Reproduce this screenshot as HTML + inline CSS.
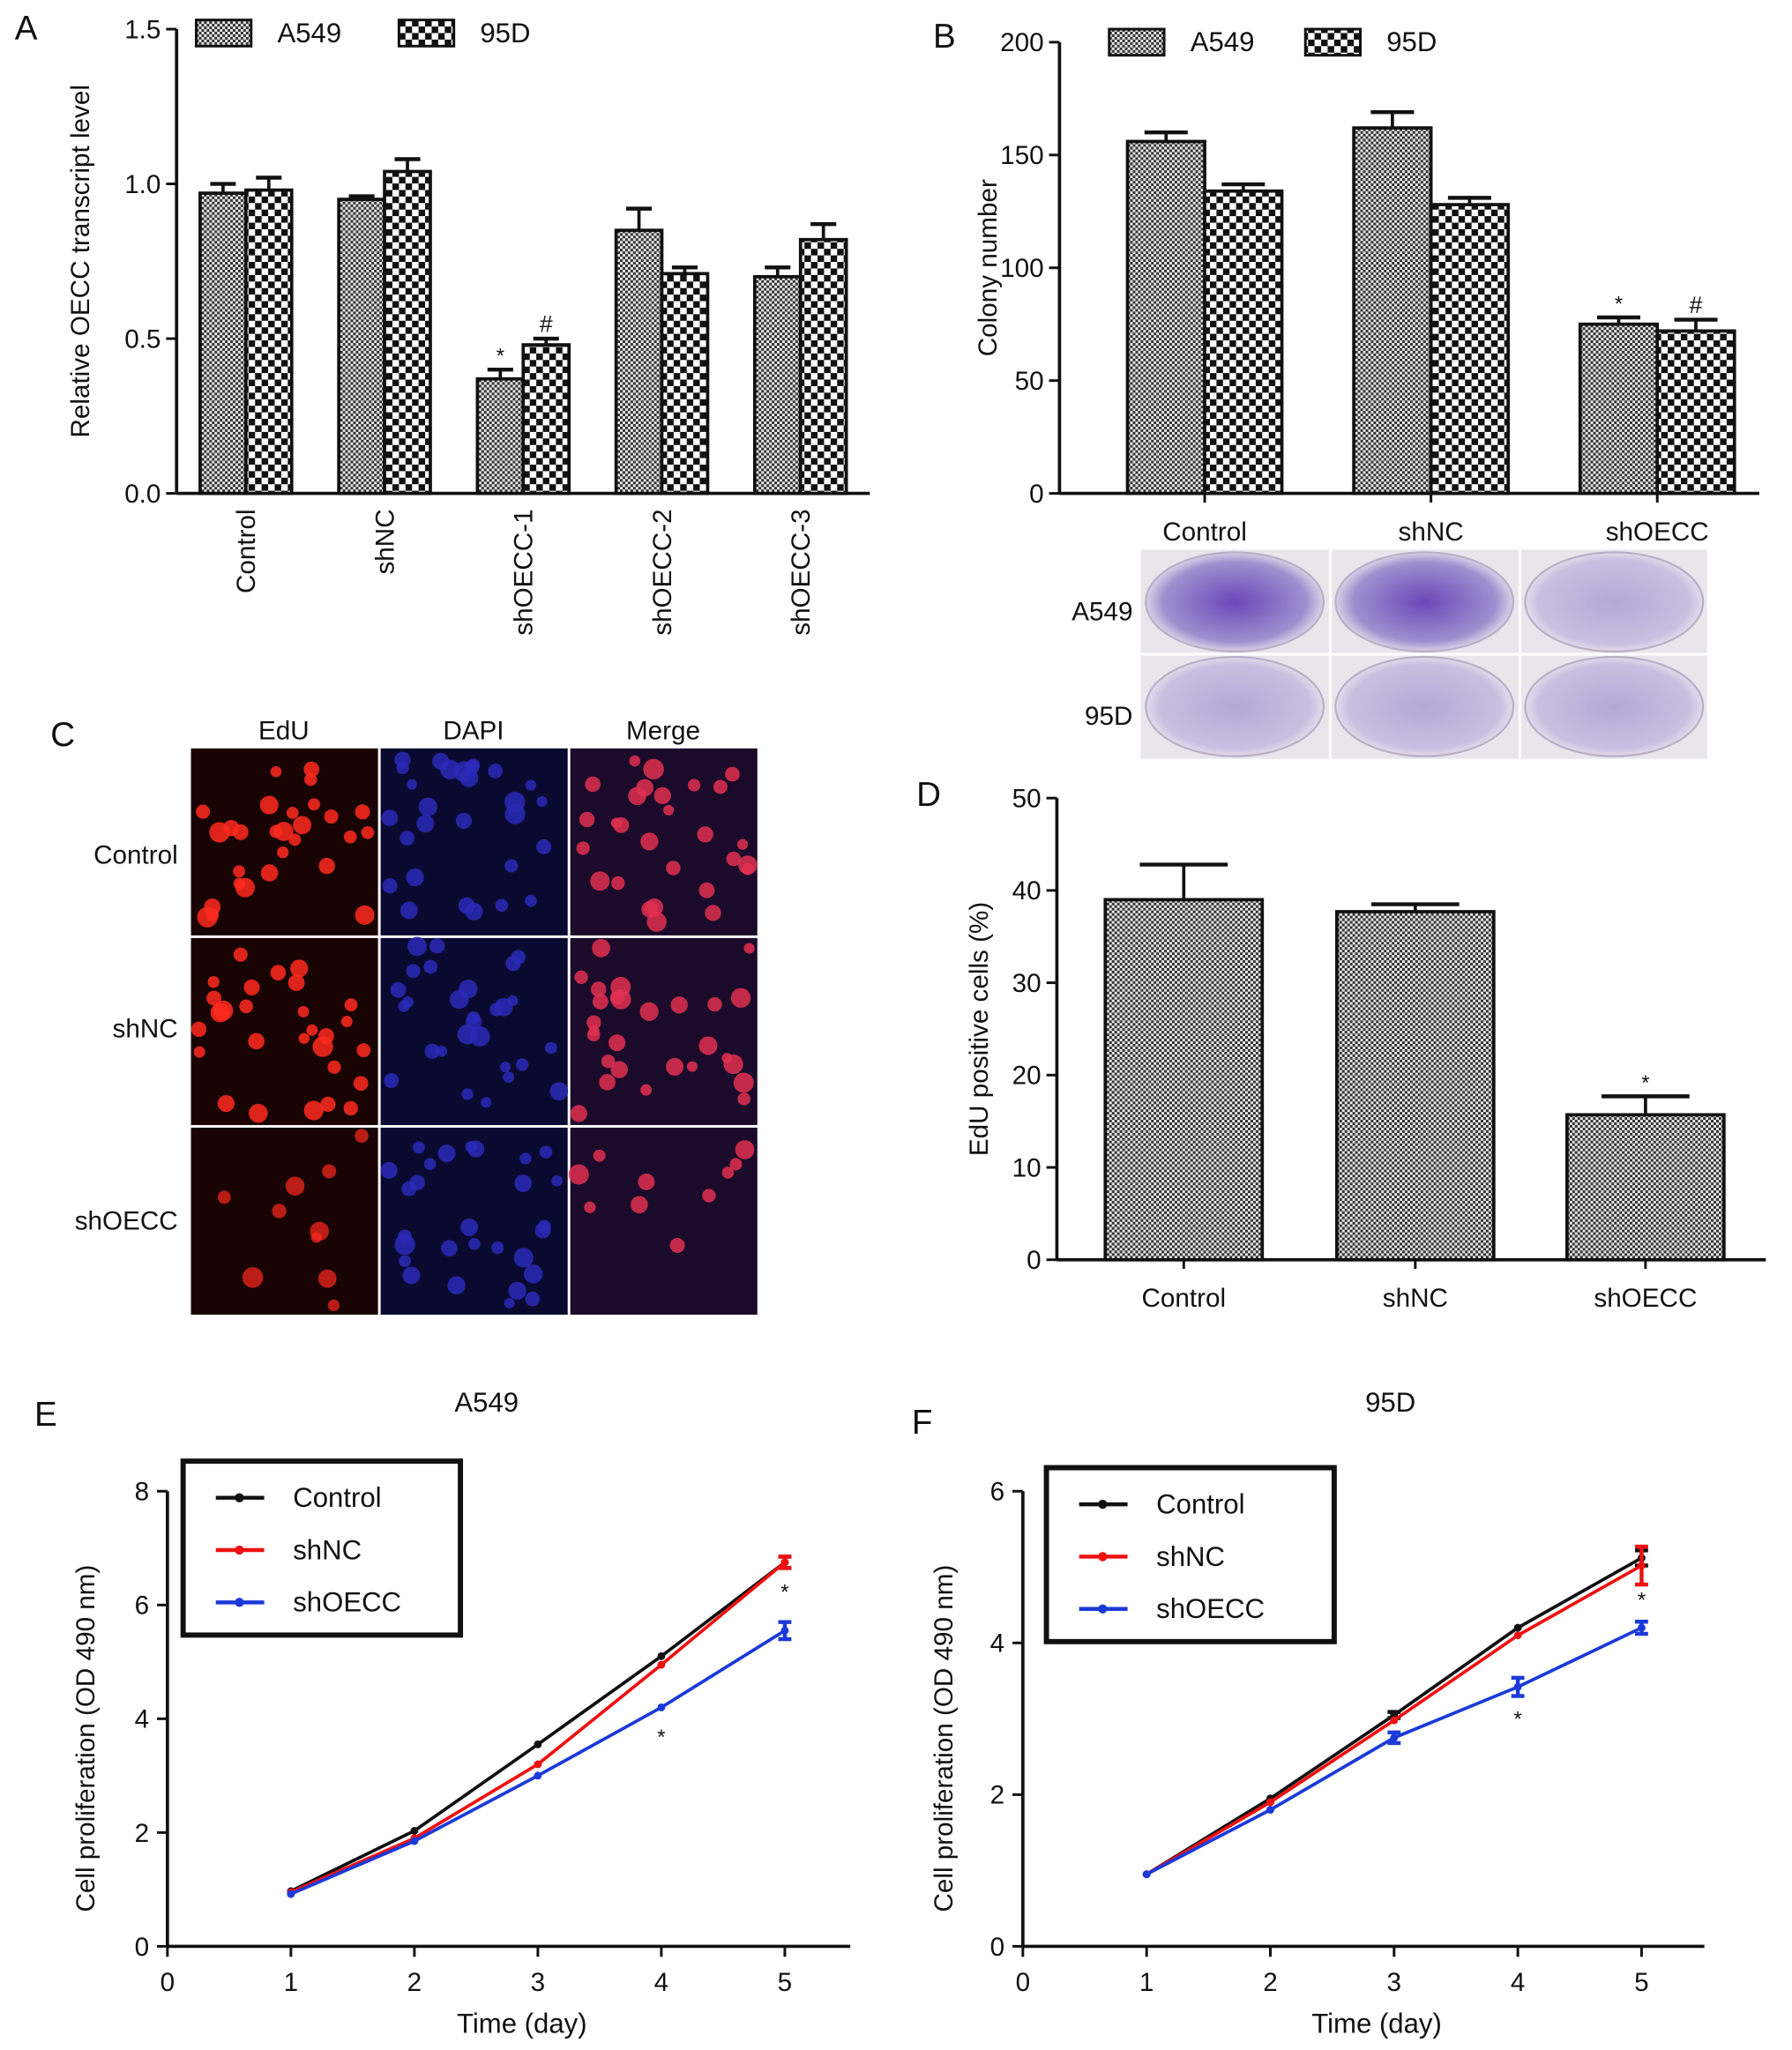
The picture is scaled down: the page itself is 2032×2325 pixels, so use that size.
<!DOCTYPE html>
<html><head><meta charset="utf-8"><style>
html,body{margin:0;padding:0;background:#fff}
svg{display:block;font-family:"Liberation Sans",Arial,sans-serif}
</style></head><body>
<svg id="fig" width="2032" height="2325" viewBox="0 0 1370 1567" xmlns="http://www.w3.org/2000/svg">
<defs>
<pattern id="pA" width="4" height="4" patternUnits="userSpaceOnUse"><rect width="4" height="4" fill="#e6e6e6"/><rect width="2" height="2" fill="#333"/><rect x="2" y="2" width="2" height="2" fill="#333"/></pattern>
<pattern id="pB" width="10" height="10" patternUnits="userSpaceOnUse"><rect width="10" height="10" fill="#fff"/><rect width="5" height="5" fill="#111"/><rect x="5" y="5" width="5" height="5" fill="#111"/></pattern>
<radialGradient id="dishA" cx="50%" cy="50%" r="50%"><stop offset="0" stop-color="#6a48b8"/><stop offset="0.8" stop-color="#9f8fcf"/><stop offset="1" stop-color="#d8d2e6"/></radialGradient>
<radialGradient id="dishB" cx="50%" cy="50%" r="50%"><stop offset="0" stop-color="#b4a8d8"/><stop offset="0.85" stop-color="#c9c0e0"/><stop offset="1" stop-color="#e2dcec"/></radialGradient>
</defs>
<g id="root"></g>
</svg>
<script>
// ---- Panel A data ----
const aCats = ['Control','shNC','shOECC-1','shOECC-2','shOECC-3'];
const aA549 = [0.97,0.95,0.37,0.85,0.70];
const a95D = [0.98,1.04,0.48,0.71,0.82];
const aA549Err = [0.03,0.01,0.03,0.07,0.03];
const a95DErr = [0.04,0.04,0.02,0.02,0.05];
const aTicks = [0,0.5,1.0,1.5];
// ---- Panel B data ----
const bCats = ['Control','shNC','shOECC'];
const bA549 = [156,162,75];
const b95D = [134,128,72];
const bA549Err = [4,7,3];
const b95DErr = [3,3,5];
const bTicks = [0,50,100,150,200];
// ---- Panel D data ----
const dCats = ['Control','shNC','shOECC'];
const dVals = [39,37.7,15.7];
const dErr = [3.8,0.8,2.0];
const dTicks = [0,10,20,30,40,50];
// ---- Panel E data ----
const days = [1,2,3,4,5];
const eControl = [0.97,2.03,3.55,5.1,6.75];
const eShNC = [0.95,1.9,3.2,4.95,6.75];
const eShOECC = [0.92,1.85,3.0,4.2,5.55];
const eErr = [[0,0,0,0,0.1],[0,0,0,0,0.1],[0,0,0,0,0.15]];
const eYTicks = [0,2,4,6,8];
// ---- Panel F data ----
const fControl = [0.95,1.95,3.05,4.2,5.12];
const fShNC = [0.95,1.9,2.98,4.1,5.02];
const fShOECC = [0.95,1.8,2.75,3.42,4.2];
const fErr = [[0,0,0.04,0,0.1],[0,0,0,0,0.25],[0,0,0.07,0.12,0.08]];
const fYTicks = [0,2,4,6];
const xTicks = [0,1,2,3,4,5];

const NS='http://www.w3.org/2000/svg';
const root=document.getElementById('root');
function el(tag,attrs,parent){const e=document.createElementNS(NS,tag);for(const k in attrs)e.setAttribute(k,attrs[k]);(parent||root).appendChild(e);return e;}
function txt(x,y,s,size,anchor,parent,rot){const t=el('text',{x:x,y:y,'font-size':size,'text-anchor':anchor||'middle',fill:'#111'},parent);if(rot)t.setAttribute('transform','rotate('+rot+' '+x+' '+y+')');t.textContent=s;return t;}
function line(x1,y1,x2,y2,w,c,parent){return el('line',{x1:x1,y1:y1,x2:x2,y2:y2,stroke:c||'#111','stroke-width':w||2},parent);}

[['A',20,30],['B',722,36],['C',48,570],['D',710,616],['E',35,1090],['F',705,1096]].forEach(p=>{
  const t=txt(p[1],p[2],p[0],26,'middle');
  
  
});

function barPanel(cfg){
  const g=el('g',{});
  
  
  const y=v=>cfg.y0-(v-cfg.min)/(cfg.max-cfg.min)*(cfg.y0-cfg.ytop);
  line(cfg.x0,cfg.ytop,cfg.x0,cfg.y0,2.5,'#111',g);
  line(cfg.x0,cfg.y0,cfg.xend,cfg.y0,2.5,'#111',g);
  cfg.ticks.forEach(t=>{
    line(cfg.x0-8,y(t),cfg.x0,y(t),2,'#111',g);
    const l=txt(cfg.x0-12,y(t)+7,cfg.fmt?cfg.fmt(t):String(t),20,'end',g);
    
    
  });
  const yt=txt(cfg.ytx,(cfg.y0+cfg.ytop)/2,cfg.ytitle,20,'middle',g,-90);
  
  
  const n=cfg.cats.length, gw=(cfg.xend-cfg.x0)/n;
  cfg.cats.forEach((c,i)=>{
    const cx=cfg.centers?cfg.centers[i]:cfg.x0+gw*(i+0.5);
    const bw=cfg.bw;
    cfg.series.forEach((s,j)=>{
      const bx = cfg.series.length===1? cx-bw/2 : cx-bw+j*bw;
      const v=s.vals[i], e=s.err[i];
      line(bx+bw/2,y(v),bx+bw/2,y(v+e),2.5,'#111',g);
      line(bx+bw/2-bw*0.28,y(v+e),bx+bw/2+bw*0.28,y(v+e),3,'#111',g);
      const r=el('rect',{x:bx,y:y(v),width:bw,height:cfg.y0-y(v),fill:'url(#'+s.pat+')',stroke:'#111','stroke-width':2.5},g);
      
      
      if(s.marks&&s.marks[i]){const m=txt(bx+bw/2,y(v+e)-5,s.marks[i],s.marks[i]==='*'?16:18,'middle',g);}
    });
    if(cfg.rotLabels){
      const l=txt(cx+7,cfg.y0+12,c,20,'end',g,-90);
      
      
    } else {
      line(cx,cfg.y0,cx,cfg.y0+7,2,'#111',g);
      const l=txt(cx,cfg.y0+36,c,20,'middle',g);
      
      
    }
  });
  if(cfg.legend){
    cfg.legend.forEach(L=>{
      const r=el('rect',{x:L.x,y:L.y,width:42,height:20,fill:'url(#'+L.pat+')',stroke:'#111','stroke-width':2},g);
      
      
      const t=txt(L.x+62,L.y+17,L.label,21,'start',g);
      
      
    });
  }
}

barPanel({name:'panel-a-chart',x0:135,xend:665,y0:377,ytop:22,min:0,max:1.5,ticks:aTicks,fmt:t=>t.toFixed(1),
  ytx:68,ytitle:'Relative OECC transcript level',cats:aCats,bw:35,rotLabels:true,
  series:[{key:'a549',vals:aA549,err:aA549Err,pat:'pA',marks:['','','*','','']},{key:'95d',vals:a95D,err:a95DErr,pat:'pB',marks:['','','#','','']}],
  legend:[{x:150,y:15,pat:'pA',label:'A549'},{x:305,y:15,pat:'pB',label:'95D'}]});
barPanel({name:'panel-b-chart',x0:810,xend:1345,y0:377,ytop:32,min:0,max:200,ticks:bTicks,centers:[921,1094,1267],
  ytx:762,ytitle:'Colony number',cats:bCats,bw:59,
  series:[{key:'a549',vals:bA549,err:bA549Err,pat:'pA',marks:['','','*']},{key:'95d',vals:b95D,err:b95DErr,pat:'pB',marks:['','','#']}],
  legend:[{x:848,y:22,pat:'pA',label:'A549'},{x:998,y:22,pat:'pB',label:'95D'}]});
barPanel({name:'panel-d-chart',x0:808,xend:1350,y0:963,ytop:610,min:0,max:50,ticks:dTicks,centers:[905,1082,1258],
  ytx:755,ytitle:'EdU positive cells (%)',cats:dCats,bw:120,
  series:[{key:'edu',vals:dVals,err:dErr,pat:'pA',marks:['','','*']}]});

(function(){
  const g=el('g',{});
  
  
  el('rect',{x:872,y:420,width:433,height:160,fill:'#e8e6ea'},g);
  const rows=['A549','95D'];
  rows.forEach((r,ri)=>{
    const l=txt(866,474+ri*80,r,20,'end',g);
    
    
    for(let c=0;c<3;c++){
      const cx=872+c*145+72, cy=420+ri*80+40;
      const dense = ri===0 && c<2;
      const e=el('ellipse',{cx:cx,cy:cy,rx:68,ry:38,fill:dense?'url(#dishA)':'url(#dishB)',stroke:'#b8b0c8','stroke-width':1.5},g);
      
      
    }
  });
  for(let i=1;i<3;i++) line(872+i*145,420,872+i*145,580,2,'#fff',g);
  line(872,500,1305,500,2,'#fff',g);
})();

(function(){
  const g=el('g',{});
  
  
  const bgs=['#1a0303','#0a0a30','#1c0a2a'];
  const dots=['#ff2a20','#2a2ab8','#e03050'];
  const cols=['EdU','DAPI','Merge'], rows=['Control','shNC','shOECC'];
  cols.forEach((c,i)=>{const t=txt(217+i*145,565,c,20,'middle',g);});
  rows.forEach((r,j)=>{const t=txt(136,[660,793,940][j],r,20,'end',g);});
  let seed=7;const rnd=()=>{seed=(seed*9301+49297)%233280;return seed/233280;};
  for(let j=0;j<3;j++)for(let i=0;i<3;i++){
    const x=146+i*145,y=572+j*145;
    el('rect',{x:x,y:y,width:143,height:143,fill:bgs[i]},g);
    const n = j===2 && i!==1 ? 10 : 28;
    for(let k=0;k<n;k++){
      el('circle',{cx:x+6+rnd()*131,cy:y+6+rnd()*131,r:4+rnd()*4,fill:dots[i],opacity:j===2&&i===0?0.7:0.85},g);
    }
  }
})();

function linePanel(cfg){
  const g=el('g',{});
  
  
  const X=d=>cfg.x0+d*(cfg.x5-cfg.x0)/5;
  const Y=v=>cfg.y0-v/cfg.ymax*(cfg.y0-cfg.ytop);
  line(cfg.x0,cfg.ytop,cfg.x0,cfg.y0,2.5,'#111',g);
  line(cfg.x0,cfg.y0,cfg.xend,cfg.y0,2.5,'#111',g);
  cfg.yticks.forEach(t=>{line(cfg.x0-8,Y(t),cfg.x0,Y(t),2,'#111',g);const l=txt(cfg.x0-14,Y(t)+7,String(t),20,'end',g);});
  xTicks.forEach(t=>{line(X(t),cfg.y0,X(t),cfg.y0+8,2,'#111',g);const l=txt(X(t),cfg.y0+34,String(t),20,'middle',g);});
  const xt=txt((cfg.x0+cfg.xend)/2+10,cfg.y0+66,'Time (day)',21,'middle',g);
  
  const yt=txt(cfg.ytx,(cfg.y0+cfg.ytop)/2+15,'Cell proliferation (OD 490 nm)',20,'middle',g,-90);
  
  const tt=txt(cfg.titleX,1079,cfg.title,21,'middle',g);
  
  const series=[{k:'control',v:cfg.s[0],c:'#111'},{k:'shnc',v:cfg.s[1],c:'#ee1111'},{k:'shoecc',v:cfg.s[2],c:'#1a3ad8'}];
  series.forEach((s,si)=>{
    const pts=days.map((d,i)=>X(d)+','+Y(s.v[i])).join(' ');
    const p=el('polyline',{points:pts,fill:'none',stroke:s.c,'stroke-width':2.5},g);
    
    
    days.forEach((d,i)=>{
      const e=cfg.err[si][i];
      if(e>0){line(X(d),Y(s.v[i]-e),X(d),Y(s.v[i]+e),3,s.c,g);line(X(d)-5,Y(s.v[i]+e),X(d)+5,Y(s.v[i]+e),3,s.c,g);line(X(d)-5,Y(s.v[i]-e),X(d)+5,Y(s.v[i]-e),3,s.c,g);}
      const m=el('circle',{cx:X(d),cy:Y(s.v[i]),r:3,fill:s.c},g);
      
      
    });
  });
  cfg.stars.forEach(st=>{const t=txt(X(st[0]),Y(st[1])+(st[2]),'*',16,'middle',g);});
  const L=cfg.leg;
  const box=el('rect',{x:L.x,y:L.y,width:L.w,height:L.h,fill:'#fff',stroke:'#111','stroke-width':4},g);
  
  ['Control','shNC','shOECC'].forEach((n,i)=>{
    const ly=L.y+28+i*40;
    line(L.x+25,ly,L.x+62,ly,3,series[i].c,g);
    el('circle',{cx:L.x+43,cy:ly,r:3.5,fill:series[i].c},g);
    const t=txt(L.x+84,ly+7,n,21,'start',g);
    
    
  });
}
linePanel({name:'panel-e-chart',x0:128,x5:600,xend:650,y0:1488,ytop:1140,ymax:8,yticks:eYTicks,ytx:72,title:'A549',titleX:372,
  s:[eControl,eShNC,eShOECC],err:eErr,stars:[[4,4.2,28],[5,5.55,-24]],leg:{x:140,y:1117,w:212,h:133}});
linePanel({name:'panel-f-chart',x0:782,x5:1255,xend:1303,y0:1488,ytop:1140,ymax:6,yticks:fYTicks,ytx:728,title:'95D',titleX:1063,
  s:[fControl,fShNC,fShOECC],err:fErr,stars:[[4,3.42,30],[5,4.2,-16]],leg:{x:800,y:1122,w:220,h:133}});
</script>
</body></html>
